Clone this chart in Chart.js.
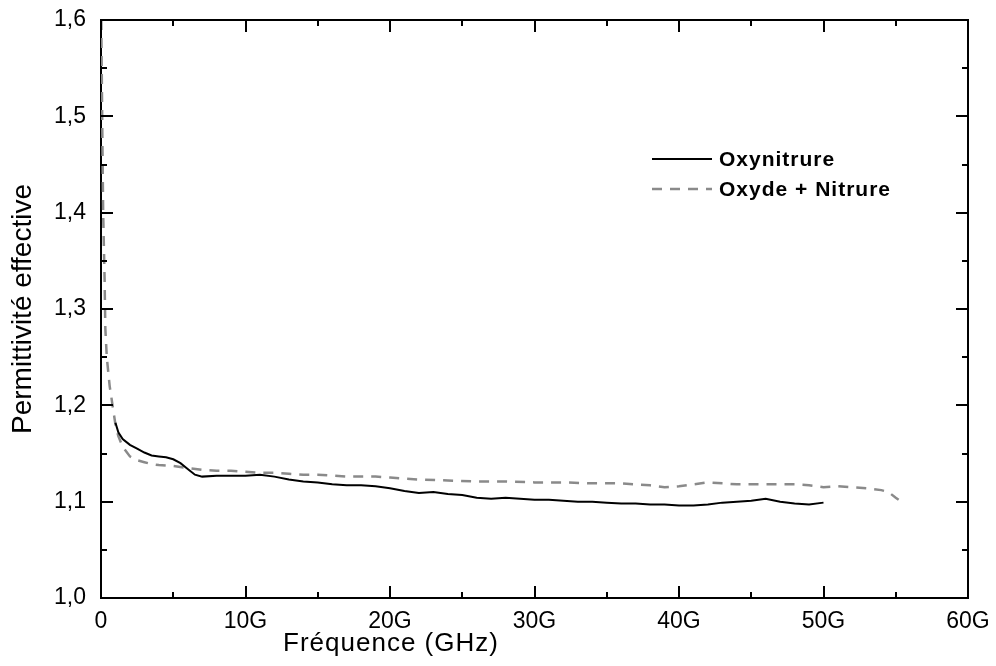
<!DOCTYPE html>
<html>
<head>
<meta charset="utf-8">
<script src="https://cdn.jsdelivr.net/npm/chart.js@4"></script>
<style>
  html, body { margin: 0; padding: 0; background: #fff; }
</style>
</head>
<body>
<canvas id="chart" width="996" height="666"></canvas>
<script>
// frequency in GHz, permittivity values
var oxyFreq = [1.0, 1.2, 1.5, 2.0, 2.5, 3.0, 3.5, 4.0, 4.5, 5.0, 5.5, 6.0, 6.5, 7.0, 8.0, 9.0, 10.0, 11.0, 12.0, 13.0,
    14.0, 15.0, 16.0, 17.0, 18.0, 19.0, 20.0, 21.0, 22.0, 23.0, 24.0, 25.0, 26.0, 27.0, 28.0, 29.0, 30.0, 31.0, 32.0,
    33.0, 34.0, 35.0, 36.0, 37.0, 38.0, 39.0, 40.0, 41.0, 42.0, 43.0, 44.0, 45.0, 46.0, 47.0, 48.0, 49.0, 50.0];
var oxyVal = [1.182, 1.172, 1.165, 1.159, 1.155, 1.151, 1.148, 1.147, 1.146, 1.144, 1.140, 1.134, 1.128, 1.126, 1.127,
    1.127, 1.127, 1.128, 1.126, 1.123, 1.121, 1.120, 1.118, 1.117, 1.117, 1.116, 1.114, 1.111, 1.109, 1.110, 1.108,
    1.107, 1.104, 1.103, 1.104, 1.103, 1.102, 1.102, 1.101, 1.100, 1.100, 1.099, 1.098, 1.098, 1.097, 1.097, 1.096,
    1.096, 1.097, 1.099, 1.100, 1.101, 1.103, 1.100, 1.098, 1.097, 1.099];

var stackFreq = [0.02, 0.05, 0.1, 0.15, 0.25, 0.3, 0.4, 0.6, 0.8, 1.0, 1.2, 1.5, 2.0, 2.5, 3.0, 3.5, 4.0, 5.0, 6.0,
    7.0, 8.0, 9.0, 10.0, 11.0, 12.0, 13.0, 14.0, 15.0, 16.0, 17.0, 18.0, 19.0, 20.0, 22.0, 24.0, 26.0, 28.0, 30.0,
    32.0, 34.0, 36.0, 38.0, 39.0, 40.0, 41.0, 42.0, 43.0, 44.0, 46.0, 48.0, 49.0, 50.0, 51.0, 52.0, 53.0, 54.0,
    54.5, 55.0, 55.2];
var stackVal = [1.600, 1.550, 1.470, 1.400, 1.330, 1.280, 1.250, 1.220, 1.200, 1.180, 1.168, 1.157, 1.147, 1.143,
    1.141, 1.139, 1.138, 1.137, 1.135, 1.133, 1.132, 1.132, 1.131, 1.130, 1.130, 1.129, 1.128, 1.128, 1.127, 1.126,
    1.126, 1.126, 1.125, 1.123, 1.122, 1.121, 1.121, 1.120, 1.120, 1.119, 1.119, 1.117, 1.115, 1.116, 1.118, 1.120,
    1.119, 1.118, 1.118, 1.118, 1.117, 1.115, 1.116, 1.115, 1.114, 1.112, 1.110, 1.104, 1.102];

var seriesNames = ["Oxynitrure", "Oxyde + Nitrure"];
var xTicks = [0, 10, 20, 30, 40, 50, 60];
var yTicks = [1.0, 1.1, 1.2, 1.3, 1.4, 1.5, 1.6];
var xTitle = "Fréquence (GHz)";
var yTitle = "Permittivité effective";

function toPoints(xs, ys) {
    return xs.map(function (x, i) { return {x: x, y: ys[i]}; });
}

var FONT = "'Liberation Sans', Arial, sans-serif";

// inward ticks on all four sides, plus top and right frame lines
var frameTicks = {
    id: "frameTicks",
    afterDraw: function (chart) {
        var ctx = chart.ctx, a = chart.chartArea;
        var xs = chart.scales.x, ys = chart.scales.y;
        ctx.save();
        ctx.strokeStyle = "#000";
        ctx.lineWidth = 2;
        ctx.beginPath();
        ctx.moveTo(a.left, a.top);
        ctx.lineTo(a.right, a.top);
        ctx.lineTo(a.right, a.bottom);
        ctx.stroke();
        ctx.beginPath();
        for (var v = 0; v <= 60; v += 5) {
            var px = Math.round(xs.getPixelForValue(v));
            var len = v % 10 === 0 ? 12 : 6;
            ctx.moveTo(px, a.bottom); ctx.lineTo(px, a.bottom - len);
            ctx.moveTo(px, a.top); ctx.lineTo(px, a.top + len);
        }
        for (var k = 0; k <= 12; k++) {
            var py = Math.round(ys.getPixelForValue(1 + k * 0.05));
            var l = k % 2 === 0 ? 12 : 6;
            ctx.moveTo(a.left, py); ctx.lineTo(a.left + l, py);
            ctx.moveTo(a.right, py); ctx.lineTo(a.right - l, py);
        }
        ctx.stroke();

        // x axis title, set left of the plot centre
        ctx.fillStyle = "#000";
        ctx.font = "26px " + FONT;
        ctx.letterSpacing = "1px";
        ctx.textAlign = "center";
        ctx.textBaseline = "alphabetic";
        ctx.fillText(xTitle, 391, 651);
        ctx.restore();
    }
};

// legend in the upper right of the plot
var innerLegend = {
    id: "innerLegend",
    afterDraw: function (chart) {
        var ctx = chart.ctx;
        ctx.save();
        ctx.font = "bold 21px " + FONT;
        ctx.letterSpacing = "1px";
        ctx.textBaseline = "middle";
        chart.data.datasets.forEach(function (ds, i) {
            var y = 159 + i * 30;
            ctx.strokeStyle = ds.borderColor;
            ctx.lineWidth = ds.borderWidth;
            ctx.setLineDash(ds.borderDash || []);
            ctx.beginPath();
            ctx.moveTo(652, y);
            ctx.lineTo(712, y);
            ctx.stroke();
            ctx.setLineDash([]);
            ctx.fillStyle = "#000";
            ctx.fillText(ds.label, 719, y + 1);
        });
        ctx.restore();
    }
};

new Chart("chart", {
    type: "line",
    data: {
        datasets: [{
            label: seriesNames[0],
            data: toPoints(oxyFreq, oxyVal),
            borderColor: "#000000",
            borderWidth: 2,
            pointRadius: 0,
            tension: 0,
            fill: false
        }, {
            label: seriesNames[1],
            data: toPoints(stackFreq, stackVal),
            borderColor: "#8a8a8a",
            borderWidth: 2.5,
            borderDash: [10, 8],
            pointRadius: 0,
            tension: 0,
            fill: false
        }]
    },
    options: {
        responsive: false,
        animation: false,
        layout: {padding: {left: 0, top: 20, right: 28, bottom: 0}},
        plugins: {legend: {display: false}, tooltip: {enabled: false}},
        scales: {
            x: {
                type: "linear",
                min: 0, max: 60,
                afterBuildTicks: function (s) { s.ticks = xTicks.map(function (v) { return {value: v}; }); },
                afterFit: function (s) { s.height = 68; s.paddingLeft = 0; s.paddingRight = 0; },
                grid: {display: false, drawTicks: false},
                border: {display: true, color: "#000", width: 2},
                ticks: {
                    padding: 10, color: "#000",
                    font: {family: FONT, size: 23},
                    callback: function (v) { return v === 0 ? "0" : v + "G"; }
                },
                title: {display: false}
            },
            y: {
                min: 1.0, max: 1.6,
                afterBuildTicks: function (s) { s.ticks = yTicks.map(function (v) { return {value: v}; }); },
                afterFit: function (s) { s.width = 101; s.paddingTop = 0; s.paddingBottom = 0; },
                grid: {display: false, drawTicks: false},
                border: {display: true, color: "#000", width: 2},
                ticks: {
                    padding: 15, color: "#000",
                    font: {family: FONT, size: 23},
                    callback: function (v) { return v.toFixed(1).replace(".", ","); }
                },
                title: {
                    display: true, text: yTitle, color: "#000",
                    font: {family: FONT, size: 28}, padding: {top: 6, bottom: 0}
                }
            }
        }
    },
    plugins: [frameTicks, innerLegend]
});
</script>
</body>
</html>
